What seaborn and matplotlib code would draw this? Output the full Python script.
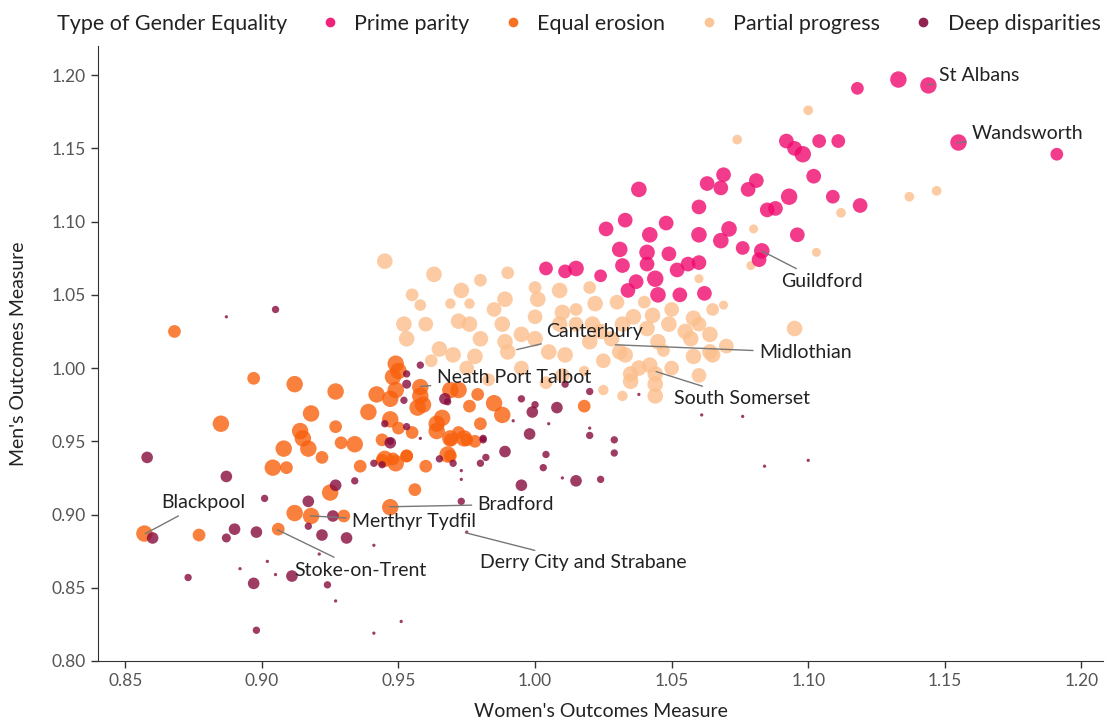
import numpy as np
import pandas as pd
import matplotlib
matplotlib.use("Agg")
import matplotlib.pyplot as plt
from matplotlib.lines import Line2D
import seaborn as sns

# ---- data -------------------------------------------------------------
groups = ["Prime parity", "Equal erosion", "Partial progress", "Deep disparities"]
colors = {"Prime parity": "#f00a6e", "Equal erosion": "#f8600c",
          "Partial progress": "#fcbf8c", "Deep disparities": "#870b3d"}

# Prime parity
pp_x = [1.118, 1.133, 1.144, 1.155, 1.191, 1.092, 1.095, 1.098, 1.104, 1.111,
        1.102, 1.081, 1.078, 1.093, 1.109, 1.119, 1.085, 1.088, 1.096, 1.038,
        1.069, 1.063, 1.068, 1.060, 1.026, 1.033, 1.048, 1.042, 1.060, 1.068,
        1.071, 1.031, 1.041, 1.049, 1.076, 1.083, 1.082, 1.004, 1.011, 1.015,
        1.024, 1.032, 1.041, 1.052, 1.056, 1.060, 1.037, 1.034, 1.044, 1.045,
        1.053, 1.062]
pp_y = [1.191, 1.197, 1.193, 1.154, 1.146, 1.155, 1.150, 1.146, 1.155, 1.155,
        1.131, 1.128, 1.122, 1.117, 1.117, 1.111, 1.108, 1.109, 1.091, 1.122,
        1.132, 1.126, 1.123, 1.110, 1.095, 1.101, 1.099, 1.091, 1.091, 1.087,
        1.095, 1.081, 1.079, 1.078, 1.082, 1.080, 1.074, 1.068, 1.066, 1.068,
        1.063, 1.070, 1.071, 1.067, 1.071, 1.072, 1.059, 1.053, 1.061, 1.050,
        1.050, 1.051]
pp_w = [0.6, 1.0, 1.0, 1.0, 0.6, 0.8, 0.8, 1.0, 0.7, 0.7,
        0.8, 0.8, 0.8, 1.0, 0.7, 0.8, 0.8, 0.8, 0.8, 0.9,
        0.8, 0.8, 0.8, 0.8, 0.8, 0.8, 0.8, 0.9, 0.9, 0.9,
        0.9, 0.9, 0.9, 0.8, 0.7, 0.9, 0.8, 0.7, 0.7, 0.9,
        0.6, 0.8, 0.8, 0.8, 0.8, 0.8, 0.8, 0.8, 1.0, 0.9,
        0.8, 0.8]

# Equal erosion
ee_x = [0.868, 0.897, 0.912, 0.927, 0.885, 0.918, 0.914, 0.915, 0.927, 0.908,
        0.917, 0.929, 0.934, 0.922, 0.904, 0.909, 0.936, 0.925, 0.956, 0.960,
        0.947, 0.912, 0.918, 0.930, 0.857, 0.877, 0.906, 0.944, 0.948, 0.953,
        0.969, 0.974, 0.969, 0.949, 0.950, 0.948, 0.942, 0.947, 0.949, 0.958,
        0.958, 0.959, 0.957, 0.969, 0.972, 0.979, 0.985, 0.988, 0.976, 0.980,
        0.939, 0.947, 0.950, 0.955, 0.964, 0.964, 0.966, 0.972, 0.975, 0.969,
        0.978, 0.944, 0.945, 0.949, 0.953, 0.968, 1.018]
ee_y = [1.025, 0.993, 0.989, 0.984, 0.962, 0.969, 0.957, 0.952, 0.960, 0.945,
        0.945, 0.949, 0.948, 0.939, 0.932, 0.932, 0.933, 0.915, 0.917, 0.933,
        0.905, 0.901, 0.899, 0.899, 0.887, 0.886, 0.890, 0.937, 0.938, 0.940,
        0.952, 0.952, 0.940, 1.003, 0.998, 0.994, 0.982, 0.979, 0.985, 0.987,
        0.981, 0.975, 0.973, 0.985, 0.985, 0.982, 0.976, 0.968, 0.974, 0.962,
        0.970, 0.965, 0.959, 0.956, 0.962, 0.957, 0.966, 0.956, 0.951, 0.951,
        0.950, 0.951, 0.938, 0.935, 0.940, 0.941, 0.974]
ee_w = [0.6, 0.6, 1.0, 1.0, 1.0, 1.0, 1.0, 1.0, 0.6, 1.0,
        1.0, 0.6, 1.0, 0.6, 1.0, 0.6, 0.6, 1.0, 0.6, 0.6,
        1.0, 1.0, 1.0, 0.6, 1.0, 0.6, 0.6, 0.6, 0.6, 0.6,
        1.0, 1.0, 0.6, 1.0, 1.0, 1.0, 1.0, 1.0, 1.0, 1.0,
        1.0, 1.0, 1.0, 1.0, 1.0, 0.6, 1.0, 1.0, 0.6, 0.6,
        1.0, 1.0, 0.6, 0.6, 1.0, 1.0, 1.0, 0.6, 0.6, 0.6,
        0.6, 0.6, 1.0, 1.0, 0.6, 1.0, 0.6]

# Partial progress
pg_x = [0.945, 0.963, 0.973, 0.989, 1.001, 1.009, 1.022, 1.010, 0.976, 0.980,
        0.965, 0.970, 0.978, 0.989, 0.990, 0.995, 1.000, 1.005, 1.011, 1.020,
        1.024, 1.031, 1.032, 1.036, 1.041, 1.045, 1.042, 1.049, 1.055, 1.058,
        1.064, 1.065, 1.058, 1.035, 1.044, 0.952, 0.953, 0.972, 0.988, 1.009,
        1.021, 1.028, 1.033, 1.043, 1.057, 1.064, 1.038, 1.035, 1.044, 1.095,
        1.079, 1.080, 1.069, 1.060, 1.100, 1.112, 1.137, 1.147, 1.074, 1.103,
        1.025, 1.032, 1.044, 1.018, 0.969, 0.976,
        0.960, 0.985, 1.000, 1.015, 1.030, 1.050, 1.060, 1.070, 0.975, 0.995,
        1.010, 1.025, 1.050, 1.060, 0.955, 0.980, 1.000, 1.020, 1.040, 1.065,
        0.990, 1.015, 0.962, 0.983, 1.004, 0.958, 1.047]
pg_y = [1.073, 1.064, 1.053, 1.047, 1.047, 1.053, 1.044, 1.038, 1.030, 1.020,
        1.013, 1.009, 1.008, 1.018, 1.011, 1.023, 1.020, 1.011, 1.009, 1.018,
        1.025, 1.011, 1.030, 1.035, 1.027, 1.018, 1.002, 1.030, 1.025, 1.034,
        1.023, 1.009, 1.008, 0.996, 0.996, 1.030, 1.020, 1.032, 1.030, 1.030,
        1.030, 1.020, 1.009, 1.036, 1.020, 1.011, 1.000, 0.991, 0.989, 1.027,
        1.070, 1.095, 1.043, 1.061, 1.176, 1.106, 1.117, 1.121, 1.156, 1.079,
        0.985, 0.981, 0.981, 0.998, 1.044, 1.044,
        1.030, 1.040, 1.035, 1.030, 1.045, 1.040, 1.030, 1.015, 1.000, 1.000,
        0.995, 1.005, 1.000, 0.995, 1.050, 1.060, 1.055, 1.055, 1.045, 1.040,
        1.065, 1.040, 1.005, 0.992, 0.990, 1.043, 1.012]
pg_w = [0.9, 0.9, 0.9, 0.9, 0.9, 0.9, 0.9, 0.9, 0.9, 0.9,
        0.9, 0.9, 0.9, 0.9, 0.9, 0.9, 0.9, 0.9, 0.9, 0.9,
        0.9, 0.9, 0.9, 0.9, 0.9, 0.9, 0.9, 0.9, 0.9, 0.9,
        0.9, 0.9, 0.9, 0.9, 0.9, 0.9, 0.9, 0.9, 0.9, 0.9,
        0.9, 0.9, 0.9, 0.9, 0.9, 0.9, 0.9, 0.9, 0.9, 0.9,
        0.3, 0.3, 0.3, 0.3, 0.35, 0.35, 0.35, 0.35, 0.35, 0.3,
        0.4, 0.4, 0.9, 0.4, 0.4, 0.4,
        0.8, 0.8, 0.8, 0.8, 0.8, 0.8, 0.8, 0.8, 0.8, 0.8,
        0.8, 0.8, 0.8, 0.8, 0.6, 0.6, 0.6, 0.6, 0.6, 0.6,
        0.6, 0.6, 0.6, 0.6, 0.6, 0.5, 0.6]

# Deep disparities
dd_x = [0.858, 0.860, 0.887, 0.890, 0.887, 0.898, 0.901, 0.905, 0.887, 0.917,
        0.927, 0.934, 0.926, 0.917, 0.922, 0.931, 0.873, 0.897, 0.911, 0.905,
        0.902, 0.892, 0.924, 0.927, 0.921, 0.941, 0.898, 0.951, 0.941, 0.973,
        0.973, 0.973, 0.980, 0.982, 0.989, 0.995, 1.004, 1.003, 0.998, 0.965,
        0.970, 0.941, 0.947, 0.981, 0.958, 0.953, 0.953, 0.952, 0.967, 0.968,
        0.995, 0.999, 1.000, 1.008, 1.020, 1.011, 1.005, 0.992, 1.020, 1.020,
        1.029, 1.029, 1.015, 1.024, 1.010, 0.981, 0.947, 0.945, 0.953, 0.958,
        0.944, 1.038, 1.061, 1.076, 1.084, 1.100, 0.975]
dd_y = [0.939, 0.884, 0.926, 0.890, 0.884, 0.888, 0.911, 1.040, 1.035, 0.909,
        0.920, 0.923, 0.899, 0.892, 0.886, 0.884, 0.857, 0.853, 0.858, 0.859,
        0.868, 0.863, 0.852, 0.841, 0.873, 0.879, 0.821, 0.827, 0.819, 0.909,
        0.930, 0.924, 0.935, 0.939, 0.943, 0.920, 0.941, 0.932, 0.955, 0.938,
        0.935, 0.935, 0.950, 0.952, 1.002, 0.996, 0.989, 0.978, 0.979, 0.977,
        0.979, 0.970, 0.975, 0.973, 0.984, 0.989, 0.962, 0.964, 0.959, 0.954,
        0.951, 0.942, 0.923, 0.924, 0.925, 0.951, 0.949, 0.962, 0.960, 0.952,
        0.934, 0.982, 0.968, 0.967, 0.933, 0.937, 0.888]
dd_w = [0.5, 0.5, 0.5, 0.5, 0.3, 0.5, 0.2, 0.2, 0.04, 0.5,
        0.5, 0.2, 0.5, 0.2, 0.5, 0.5, 0.2, 0.5, 0.5, 0.04,
        0.04, 0.04, 0.2, 0.04, 0.04, 0.04, 0.2, 0.04, 0.04, 0.2,
        0.04, 0.04, 0.2, 0.2, 0.5, 0.5, 0.2, 0.2, 0.5, 0.2,
        0.2, 0.2, 0.2, 0.2, 0.2, 0.2, 0.3, 0.2, 0.5, 0.2,
        0.2, 0.5, 0.2, 0.5, 0.2, 0.2, 0.04, 0.04, 0.04, 0.2,
        0.2, 0.2, 0.5, 0.2, 0.04, 0.2, 0.5, 0.2, 0.2, 0.04,
        0.2, 0.04, 0.04, 0.04, 0.04, 0.04, 0.04]

# labelled areas: name, point, text position
label_names = ["St Albans", "Wandsworth", "Guildford", "Canterbury", "Midlothian",
               "South Somerset", "Neath Port Talbot", "Bradford", "Merthyr Tydfil",
               "Stoke-on-Trent", "Blackpool", "Derry City and Strabane"]
label_pt_x = [1.1436, 1.1545, 1.0832, 0.9933, 1.0294, 1.0443, 0.9581, 0.9468, 0.9177,
              0.9057, 0.8573, 0.9745]
label_pt_y = [1.1932, 1.1538, 1.0798, 1.0126, 1.0159, 0.9976, 0.9874, 0.9053, 0.8991,
              0.8896, 0.8869, 0.8876]
label_tx_x = [1.148, 1.160, 1.090, 1.004, 1.082, 1.051, 0.964, 0.979, 0.933,
              0.912, 0.863, 0.980]
label_tx_y = [1.200, 1.160, 1.059, 1.025, 1.0105, 0.979, 0.9935, 0.907, 0.895,
              0.862, 0.908, 0.867]

# ---- frame ------------------------------------------------------------
frames = []
for g, xs, ys, ws in [("Partial progress", pg_x, pg_y, pg_w),
                      ("Equal erosion", ee_x, ee_y, ee_w),
                      ("Deep disparities", dd_x, dd_y, dd_w),
                      ("Prime parity", pp_x, pp_y, pp_w)]:
    frames.append(pd.DataFrame({"women": xs, "men": ys, "weight": ws, "type": g}))
df = pd.concat(frames, ignore_index=True)

sns.set_style("ticks")
plt.rcParams['font.family'] = ['Lato', 'DejaVu Sans']

fig = plt.figure(figsize=(11.17, 7.22), dpi=100)
ax = fig.add_axes([0.0877, 0.0845, 0.9, 0.852])

sns.scatterplot(data=df, x="women", y="men", hue="type", size="weight",
                hue_order=groups, palette=colors, sizes=(0, 140), size_norm=(0, 1),
                alpha=0.8, linewidth=0, legend=False, ax=ax)

for name, px, py, tx, ty in zip(label_names, label_pt_x, label_pt_y, label_tx_x, label_tx_y):
    ax.annotate(name, xy=(px, py), xytext=(tx, ty), fontsize=14, color="#222",
                ha="left", va="center",
                arrowprops=dict(arrowstyle="-", color="#777", lw=1,
                                shrinkA=2, shrinkB=0))

ax.set_xlim(0.84, 1.208)
ax.set_ylim(0.80, 1.22)
ax.set_xticks(np.arange(0.85, 1.2001, 0.05))
ax.set_yticks(np.arange(0.80, 1.2001, 0.05))
ax.xaxis.set_major_formatter(matplotlib.ticker.FormatStrFormatter("%.2f"))
ax.yaxis.set_major_formatter(matplotlib.ticker.FormatStrFormatter("%.2f"))
ax.tick_params(labelsize=12.5, labelcolor="#555", color="#333", length=5, width=1)
for s in ["left", "bottom"]:
    ax.spines[s].set_color("#333")
sns.despine(ax=ax)
ax.set_xlabel("Women's Outcomes Measure", fontsize=14, color="#222", labelpad=10)
ax.set_ylabel("Men's Outcomes Measure", fontsize=14, color="#222", labelpad=18)

# legend across the top
fig.text(57 / 1117, 1 - 24 / 722, "Type of Gender Equality", fontsize=15.5,
         color="#222", va="center", ha="left")
handles = [Line2D([], [], marker="o", linestyle="", markersize=7,
                  markerfacecolor=colors[g], markeredgewidth=0, alpha=0.9)
           for g in groups]
fig.legend(handles, groups, loc="center left", bbox_to_anchor=(298 / 1117, 1 - 24 / 722),
           ncol=4, frameon=False, fontsize=15.5, handletextpad=0.55,
           columnspacing=1.45, handlelength=1.15, labelcolor="#222")

fig.savefig("out.png", dpi=100)
